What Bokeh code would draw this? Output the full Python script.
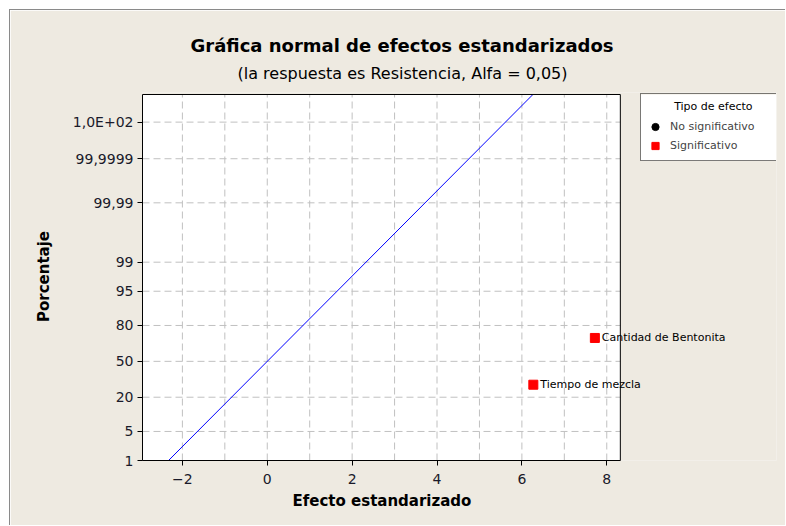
from statistics import NormalDist
from bokeh.plotting import figure
from bokeh.models import (Range1d, FixedTicker, Label, Legend, LegendItem, ColumnDataSource, Title)
from bokeh.embed import file_html
from bokeh.resources import INLINE

# ---------------- data ----------------
title_text = "Gráfica normal de efectos estandarizados"
subtitle_text = "(la respuesta es Resistencia, Alfa =  0,05)"
x_label = "Efecto estandarizado"
y_label = "Porcentaje"
x_ticks = [-2, 0, 2, 4, 6, 8]
x_grid = [-2, -1, 0, 1, 2, 3, 4, 5, 6, 7, 8]
y_tick_pct = [1, 5, 20, 50, 80, 95, 99, 99.99, 99.9999, 99.999999]
y_tick_labels = ["1", "5", "20", "50", "80", "95", "99", "99,99", "99,9999", "1,0E+02"]
effect_names = ["Tiempo de mezcla", "Cantidad de Bentonita"]
effect_values = [6.27, 7.72]
effect_pct = [29.17, 70.83]
nonsig_values = [float("nan")]   # no non-significant effects
nonsig_pct = [float("nan")]
ref_line_effect = [-2.326, 6.26]
ref_sigma = 1.0
legend_title = "Tipo de efecto"
legend_labels = ["No significativo", "Significativo"]
x_limits = [-2.94, 8.32]      # plotting area
y_bottom_pct = 1
y_top_z = 6.26
x_view_end = 12.0             # extra room at the right for legend / labels
y_view_top = 6.307
legend_box_x = [8.80, 12.0]   # white backing of the legend (view units)
legend_box_z = [4.71, 6.26]

# ---------------- helpers ----------------
nd = NormalDist()


def pz(p):
    if p != p:
        return p
    return nd.inv_cdf(p / 100.0)


y_tick_z = [pz(p) for p in y_tick_pct]
effect_z = [pz(p) for p in effect_pct]
nonsig_z = [pz(p) for p in nonsig_pct]
ref_line_z = [x / ref_sigma for x in ref_line_effect]
y_bottom_z = pz(y_bottom_pct)

FONT = "DejaVu Sans"
BG = "#EEEAE1"

p = figure(width=776, height=516,
           x_range=Range1d(x_limits[0], x_view_end), y_range=Range1d(y_bottom_z, y_view_top),
           output_backend="svg", toolbar_location=None, tools="",
           min_border_left=132, min_border_right=10, min_border_top=82, min_border_bottom=66,
           background_fill_color=BG, border_fill_color=BG)
p.margin = (9, 0, 0, 9)
p.styles = {"border-top": "1px solid #8a8a8a", "border-left": "1px solid #8a8a8a"}
p.outline_line_color = None
p.xgrid.visible = False
p.ygrid.visible = False

# plotting area (white) and legend backing
p.quad(left=[x_limits[0]], right=[x_limits[1]], bottom=[y_bottom_z], top=[y_top_z],
       fill_color="white", line_color=None, level="underlay")
p.quad(left=[legend_box_x[0]], right=[legend_box_x[1]], bottom=[legend_box_z[0]], top=[legend_box_z[1]],
       fill_color="white", line_color=None, level="underlay")

# grid lines, limited to the plotting area
n_x = len(x_grid)
n_y = len(y_tick_z)
grid_style = dict(line_color="#C0C0C0", line_dash="7 4", line_width=1, level="underlay")
p.segment(x0=list(x_grid), x1=list(x_grid), y0=[y_bottom_z] * n_x, y1=[y_top_z] * n_x, **grid_style)
p.segment(x0=[x_limits[0]] * n_y, x1=[x_limits[1]] * n_y, y0=list(y_tick_z), y1=list(y_tick_z), **grid_style)

# reference line
ref_src = ColumnDataSource(dict(x0=[ref_line_effect[0]], y0=[ref_line_z[0]],
                                x1=[ref_line_effect[1]], y1=[ref_line_z[1]]))
p.segment("x0", "y0", "x1", "y1", source=ref_src, line_color="#0000FF", line_width=1)

# frame of the plotting area
p.quad(left=[x_limits[0]], right=[x_limits[1]], bottom=[y_bottom_z], top=[y_top_z],
       fill_color=None, line_color="black", line_width=1)

# titles
p.title.text = title_text
p.title.align = "left"
p.title.offset = 48
p.title.standoff = 0
p.title.text_font = FONT
p.title.text_font_size = "18px"
p.title.text_font_style = "bold"
p.title.text_color = "black"
p.add_layout(Title(text=subtitle_text, align="left", offset=95, standoff=16, vertical_align="top",
                   text_font=FONT, text_font_size="16px", text_font_style="normal",
                   text_color="black"), "above")

# axes
p.xaxis.ticker = FixedTicker(ticks=x_ticks)
p.yaxis.ticker = FixedTicker(ticks=y_tick_z)
p.xaxis.bounds = (x_limits[0], x_limits[1])
p.yaxis.bounds = (y_bottom_z, y_top_z)
p.yaxis.major_label_overrides = {z: lab for z, lab in zip(y_tick_z, y_tick_labels)}
for ax in (p.xaxis[0], p.yaxis[0]):
    ax.axis_line_color = "black"
    ax.major_tick_line_color = "black"
    ax.major_tick_out = 5
    ax.major_tick_in = 0
    ax.minor_tick_line_color = None
    ax.major_label_text_font = FONT
    ax.major_label_text_font_size = "14px"
    ax.major_label_text_color = "#1a1a2a"
    ax.axis_label_text_font = FONT
    ax.axis_label_text_font_size = "15px"
    ax.axis_label_text_font_style = "bold"
    ax.axis_label_text_color = "black"
p.yaxis.axis_label = y_label
p.xaxis.major_label_standoff = 8
p.yaxis.major_label_standoff = 4
p.yaxis.axis_label_standoff = 17

# x axis title, centred under the plotting area
p.add_layout(Title(text=x_label, align="left", offset=150, standoff=6, text_font=FONT,
                   text_font_size="15px", text_font_style="bold", text_color="black"), "below")

# points
src_sig = ColumnDataSource(dict(x=effect_values, y=effect_z, name=effect_names))
src_ns = ColumnDataSource(dict(x=nonsig_values, y=nonsig_z))
r_ns = p.scatter("x", "y", source=src_ns, marker="circle", size=8, fill_color="black", line_color="black")
r_s = p.scatter("x", "y", source=src_sig, marker="square", size=9, fill_color="#FF0000", line_color="#FF0000")

for name, xv, zv in zip(effect_names, effect_values, effect_z):
    p.add_layout(Label(x=xv, y=zv, text=name, x_offset=7, text_baseline="middle",
                       text_font=FONT, text_font_size="11px", text_color="black"))

# centred legend title, anchored at the top-right corner of the plotting area
p.add_layout(Label(x=x_limits[1], y=y_top_z, x_offset=93, y_offset=-12, text=legend_title,
                   text_align="center", text_baseline="middle", text_font=FONT,
                   text_font_size="11px", text_color="black"))

legend = Legend(items=[LegendItem(label=legend_labels[0], renderers=[r_ns]),
                       LegendItem(label=legend_labels[1], renderers=[r_s])],
                title=" ", location=(498, 299))
legend.title_text_font = FONT
legend.title_text_font_size = "11px"
legend.title_text_font_style = "normal"
legend.title_standoff = 5
legend.label_text_font = FONT
legend.label_text_font_size = "11px"
legend.glyph_width = 18
legend.glyph_height = 19
legend.label_height = 19
legend.label_standoff = 6
legend.spacing = 0
legend.padding = 5
legend.margin = 0
legend.label_width = 104
legend.border_line_color = "black"
legend.border_line_width = 1
legend.background_fill_alpha = 0
p.add_layout(legend, "center")

open("out.html", "w").write(file_html(p, INLINE))
